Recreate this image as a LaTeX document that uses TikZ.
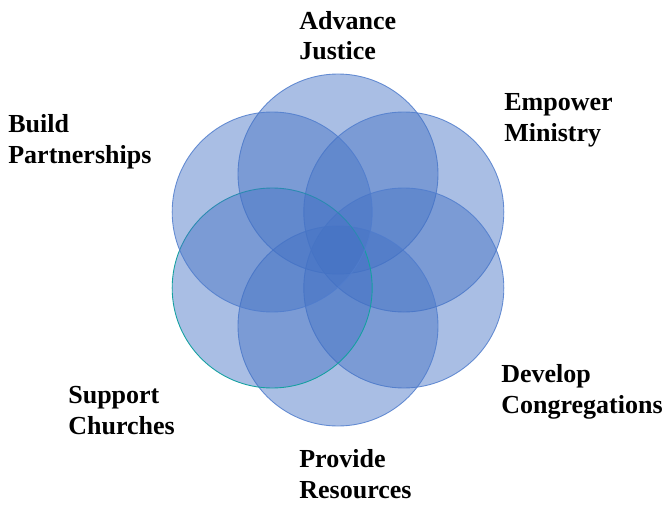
\documentclass[tikz,border=0pt]{standalone}
\usepackage{fontspec}
\setmainfont{Liberation Serif}
\usepackage{tikz}
\usetikzlibrary{positioning,calc}
\definecolor{petalblue}{RGB}{68,114,196}
\definecolor{petalline}{RGB}{80,125,205}
\definecolor{tealline}{RGB}{20,160,160}

\begin{document}
\begin{tikzpicture}[
petal/.style={draw=petalline, fill=petalblue, fill opacity=0.46, draw opacity=0.85, line width=0.5pt, circle, minimum size=4cm, inner sep=0pt},
goal/.style={anchor=base west, align=left, inner sep=0pt, font=\fontsize{14.8}{17.6}\selectfont\bfseries}
]
\useasboundingbox (-6.76,-5.1) rectangle (6.58,5.0);

%petals, clockwise from the top
\node [petal] (justice) at (90:1.52) {};
\node [petal] (ministry) at (30:1.52) {};
\node [petal] (congregations) at (-30:1.52) {};
\node [petal] (resources) at (-90:1.52) {};
\node [petal, draw=tealline, draw opacity=1] (churches) at (-150:1.52) {};
\node [petal] (partnerships) at (150:1.52) {};

%labels (base = baseline of the second line)
\node [goal] (lbjustice) at (-0.78,3.80) {Advance\\Justice};
\node [goal] (lbministry) at (3.32,2.17) {Empower\\Ministry};
\node [goal] (lbcongregations) at (3.26,-3.26) {Develop\\Congregations};
\node [goal] (lbresources) at (-0.78,-4.96) {Provide\\Resources};
\node [goal] (lbchurches) at (-5.40,-3.69) {Support\\Churches};
\node [goal] (lbpartnerships) at (-6.60,1.73) {Build\\Partnerships};

\end{tikzpicture}
\end{document}
